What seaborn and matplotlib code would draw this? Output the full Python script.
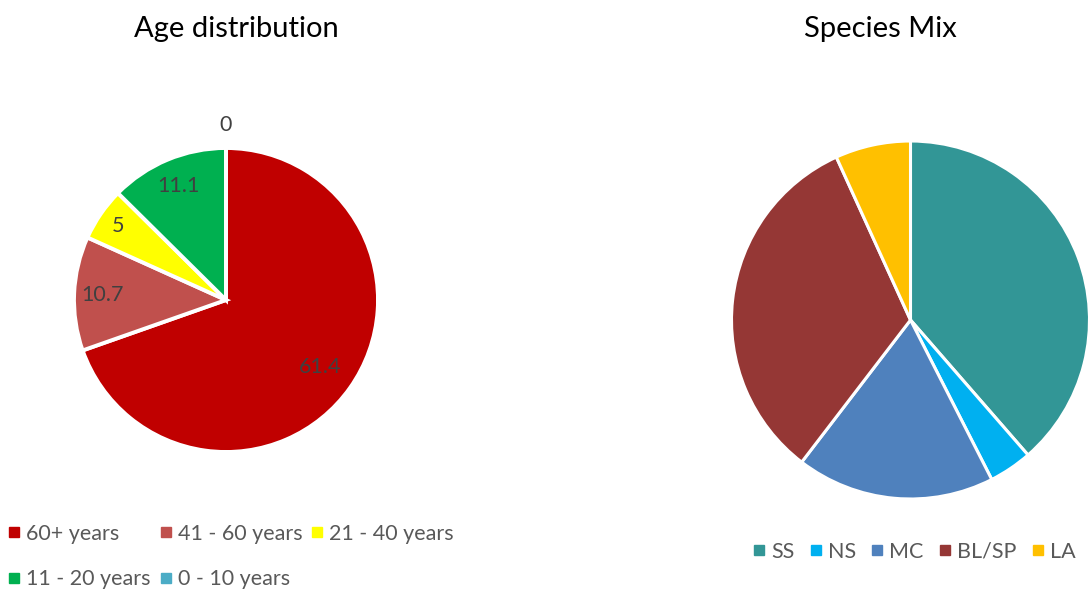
import matplotlib
matplotlib.use("Agg")
import matplotlib.pyplot as plt
import seaborn as sns
import numpy as np
from matplotlib.lines import Line2D

sns.set_theme(style="white")
plt.rcParams['font.family'] = ['Lato', 'DejaVu Sans']

# ---- data ----
age_labels = ["60+ years", "41 - 60 years", "21 - 40 years", "11 - 20 years", "0 - 10 years"]
age_values = [61.4, 10.7, 5, 11.1, 0]
age_colors = ["#C00000", "#C0504D", "#FFFF00", "#00B050", "#4BACC6"]

species_labels = ["SS", "NS", "MC", "BL/SP", "LA"]
species_values = [38.6, 3.9, 17.9, 32.8, 6.8]
species_colors = ["#329696", "#00B0F0", "#4F81BD", "#953735", "#FFC000"]

W, H = 1089, 589
fig = plt.figure(figsize=(W / 100, H / 100), dpi=100)
fig.patch.set_facecolor("white")

def axes_px(cx, cy, r):
    return fig.add_axes([(cx - r) / W, 1 - (cy + r) / H, 2 * r / W, 2 * r / H])

text_col = "#404040"
leg_col = "#595959"
fs_small = 15.5
fs_title = 21

# ---- left pie ----
ax1 = axes_px(226, 300, 152)
wedges1, _ = ax1.pie(age_values, colors=age_colors, startangle=90, counterclock=False,
                     wedgeprops=dict(edgecolor="white", linewidth=2.8), radius=1)
ax1.set_xlim(-1, 1); ax1.set_ylim(-1, 1); ax1.set_aspect("equal"); ax1.axis("off")
label_r = [0.76, 0.81, 0.86, 0.81, 1.15]
for w, v, lr in zip(wedges1, age_values, label_r):
    th = np.deg2rad((w.theta1 + w.theta2) / 2)
    ax1.text(lr * np.cos(th), lr * np.sin(th), f"{v:g}", ha="center", va="center",
             fontsize=fs_small, color=text_col, clip_on=False)
fig.text(236.5 / W, 1 - 29 / H, "Age distribution", ha="center", va="center",
         fontsize=fs_title, color="black")

# ---- right pie ----
ax2 = axes_px(910.5, 320, 179)
ax2.pie(species_values, colors=species_colors, startangle=90, counterclock=False,
        wedgeprops=dict(edgecolor="white", linewidth=2.2), radius=1)
ax2.set_xlim(-1, 1); ax2.set_ylim(-1, 1); ax2.set_aspect("equal"); ax2.axis("off")
fig.text(880 / W, 1 - 29 / H, "Species Mix", ha="center", va="center",
         fontsize=fs_title, color="black")

# ---- legends ----
def handles(labels, colors):
    return [Line2D([0], [0], marker="s", linestyle="none", markersize=6.8,
                   markerfacecolor=c, markeredgecolor=c, label=l) for l, c in zip(labels, colors)]

h1 = handles(age_labels, age_colors)
order = [0, 3, 1, 4, 2]
leg1 = fig.legend([h1[i] for i in order], [age_labels[i] for i in order], ncol=3,
                  loc="center left", bbox_to_anchor=(9 / W, 1 - 556.5 / H), frameon=False,
                  fontsize=fs_small, handlelength=0.5, handletextpad=0.3, columnspacing=0.45,
                  labelspacing=1.2, borderpad=0, borderaxespad=0)
for t in leg1.get_texts():
    t.set_color(leg_col)

h2 = handles(species_labels, species_colors)
leg2 = fig.legend(handles=h2, ncol=5, loc="center left", bbox_to_anchor=(754 / W, 1 - 552 / H),
                  frameon=False, fontsize=fs_small, handlelength=0.5, handletextpad=0.3,
                  columnspacing=0.75, borderpad=0, borderaxespad=0)
for t in leg2.get_texts():
    t.set_color(leg_col)

fig.savefig("out.png", dpi=100, facecolor="white")
